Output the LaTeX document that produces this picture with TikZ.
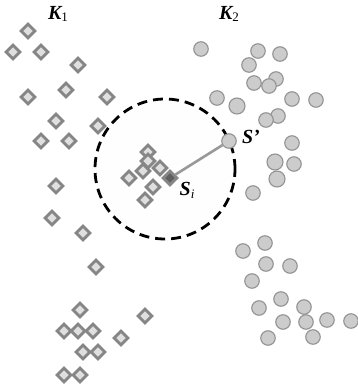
\documentclass[tikz,border=0pt]{standalone}
\usepackage{amsmath}
\usepackage{amssymb}
\usepackage{xcolor}
\usepackage{fontspec}
\setmainfont{Liberation Serif}
\usepackage{tikz}
\usetikzlibrary{shapes, arrows.meta, positioning, calc}

% bold italic symbol with a plain subscript
\newcommand{\clabel}[2]{{\bfseries\itshape #1}\raisebox{-0.3ex}{\fontsize{13}{13}\selectfont #2}}

\begin{document}
\begin{tikzpicture}[
    x=1pt, y=-1pt,
    samp/.style={diamond, draw=gray!95, line width=2.8pt, fill=gray!25, minimum size=15pt, inner sep=0pt},
    seed/.style={samp, fill=gray!75!black},
    pt/.style={circle, draw=gray!85, line width=1.1pt, fill=gray!40, minimum size=14.5pt, inner sep=0pt},
    zone/.style={circle, draw=black, dash pattern=on 10pt off 6pt, line width=2.8pt, fill=gray!1, minimum size=140pt, inner sep=0pt},
    lab/.style={font=\fontsize{20}{22}\selectfont, inner sep=0pt},
    link/.style={draw=gray!80, line width=2.6pt},
  ]
    \useasboundingbox (0,0) rectangle (358,389);

    % Neighbourhood of S_i
    \node[zone] (nb) at (165,169) {};

    % Cluster K1
    \node[lab] (k1) at (58,14) {\clabel{K}{1}};
    \node[samp] (a1) at (28,31) {};
    \node[samp] (a2) at (13,52) {};
    \node[samp] (a3) at (41,52) {};
    \node[samp] (a4) at (78,65) {};
    \node[samp] (a5) at (66,90) {};
    \node[samp] (a6) at (28,97) {};
    \node[samp] (a7) at (107,97) {};
    \node[samp] (a8) at (56,121) {};
    \node[samp] (a9) at (98,126) {};
    \node[samp] (a10) at (41,141) {};
    \node[samp] (a11) at (69,141) {};
    \node[samp] (a12) at (56,186) {};
    \node[samp] (a13) at (52,218) {};
    \node[samp] (a14) at (83,233) {};
    \node[samp] (a15) at (96,267) {};
    \node[samp] (a16) at (80,310) {};
    \node[samp] (a17) at (145,316) {};
    \node[samp] (a18) at (64,331) {};
    \node[samp] (a19) at (78,331) {};
    \node[samp] (a20) at (93,331) {};
    \node[samp] (a21) at (121,338) {};
    \node[samp] (a22) at (83,352) {};
    \node[samp] (a23) at (98,352) {};
    \node[samp] (a24) at (64,375) {};
    \node[samp] (a25) at (80,375) {};
    \node[samp] (a26) at (148,152) {};
    \node[samp] (a27) at (148,161) {};
    \node[samp] (a28) at (160,168) {};
    \node[samp] (a29) at (143,171) {};
    \node[samp] (a30) at (129,178) {};
    \node[samp] (a31) at (153,187) {};
    \node[samp] (a32) at (145,200) {};
    \node[seed] (si) at (170,178) {};

    % Cluster K2
    \node[lab] (k2) at (229,14) {\clabel{K}{2}};
    \node[pt] (b1) at (201,49) {};
    \node[pt] (b2) at (258,51) {};
    \node[pt] (b3) at (280,54) {};
    \node[pt] (b4) at (249,65) {};
    \node[pt] (b5) at (276,79) {};
    \node[pt] (b6) at (254,83) {};
    \node[pt] (b7) at (269,86) {};
    \node[pt] (b8) at (217,98) {};
    \node[pt, minimum width=16pt] (b9) at (237,106) {};
    \node[pt] (b10) at (292,99) {};
    \node[pt] (b11) at (316,100) {};
    \node[pt] (b12) at (278,116) {};
    \node[pt] (b13) at (266,120) {};
    \node[pt] (b14) at (292,143) {};
    \node[pt, minimum width=16pt] (b15) at (275,162) {};
    \node[pt] (b16) at (294,164) {};
    \node[pt, minimum width=16pt] (b17) at (277,179) {};
    \node[pt] (b18) at (253,193) {};
    \node[pt] (b19) at (265,243) {};
    \node[pt] (b20) at (243,251) {};
    \node[pt] (b21) at (266,264) {};
    \node[pt] (b22) at (290,266) {};
    \node[pt] (b23) at (252,281) {};
    \node[pt] (b24) at (281,299) {};
    \node[pt] (b25) at (259,308) {};
    \node[pt] (b26) at (304,307) {};
    \node[pt] (b27) at (283,322) {};
    \node[pt] (b28) at (306,322) {};
    \node[pt] (b29) at (327,320) {};
    \node[pt] (b30) at (351,321) {};
    \node[pt] (b31) at (268,338) {};
    \node[pt] (b32) at (313,337) {};
    \node[pt] (sp) at (229,141) {};

    % Distance S_i -- S'
    \draw[link] (si) -- (sp);
    \node[lab] (lsp) at (251,137) {\bfseries\itshape S'};
    \node[lab] (lsi) at (187,190) {\clabel{S}{\itshape i}};

  \end{tikzpicture}
\end{document}
